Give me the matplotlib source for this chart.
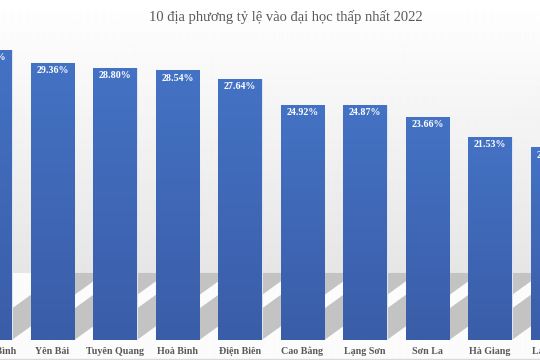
import numpy as np
import matplotlib.pyplot as plt
from matplotlib.patches import Polygon
from matplotlib.colors import LinearSegmentedColormap

# Dữ liệu
provinces = ['Quảng Bình', 'Yên Bái', 'Tuyên Quang', 'Hoà Bình', 'Điện Biên',
             'Cao Bằng', 'Lạng Sơn', 'Sơn La', 'Hà Giang', 'Lai Châu']
rates = [30.70, 29.36, 28.80, 28.54, 27.64, 24.92, 24.87, 23.66, 21.53, 20.40]
title = '10 địa phương tỷ lệ vào đại học thấp nhất 2022'

serif = ['Liberation Serif', 'DejaVu Serif']
grey_text = '#595959'

fig = plt.figure(figsize=(5.4, 3.6), dpi=100)

# nền: chuyển màu trắng -> xám nhạt, sàn trắng
bg = fig.add_axes([0, 0, 1, 1], zorder=0)
col = np.ones((360, 1))
col[:273, 0] = np.linspace(1.0, 0.90, 273)
col[273:, 0] = 0.985
bg.imshow(np.repeat(col, 2, axis=1), cmap='gray', vmin=0, vmax=1,
          aspect='auto', extent=[0, 1, 0, 1], interpolation='bilinear')
bg.set_axis_off()
bg.plot([0, 1], [0.004, 0.004], color='#d9d9d9', lw=1)
bg.set_xlim(0, 1)
bg.set_ylim(0, 1)

ax = fig.add_axes([0, 20 / 360, 1, 340 / 360], zorder=1)
ax.patch.set_alpha(0)
x = np.arange(len(provinces))
w = 0.7

# bóng đổ phía sau cột
sh_h, sh_dx = 7.1, 1.49
for xi in x:
    ax.add_patch(Polygon([(xi - w / 2, 0), (xi + w / 2, 0),
                          (xi + w / 2 + sh_dx, sh_h), (xi - w / 2 + sh_dx, sh_h)],
                         closed=True, facecolor='#c3c3c3', edgecolor='none',
                         zorder=1))

bars = ax.bar(x, rates, width=w, color='#4170c0', edgecolor='#dfe6f3',
              linewidth=0.8, zorder=2)

cmap = LinearSegmentedColormap.from_list('blue', ['#3a5da8', '#4472c4'])
grad = np.linspace(0, 1, 100).reshape(-1, 1)
for b in bars:
    im = ax.imshow(grad, cmap=cmap, origin='lower', aspect='auto',
                   extent=[b.get_x(), b.get_x() + b.get_width(), 0, b.get_height()],
                   zorder=2.5)
    im.set_clip_path(b)

for xi, v in zip(x, rates):
    ax.text(xi, v - 0.35, f'{v:.2f}%', ha='center', va='top', color='white',
            fontsize=7.2, fontweight='bold', family=serif, zorder=3)

# nhãn tỉnh (vẽ bằng annotate để cả nhãn bị cắt ở mép vẫn hiện)
for xi, name in zip(x, provinces):
    ax.annotate(name, xy=(xi, 0), xycoords=('data', 'axes fraction'),
                xytext=(0, -5), textcoords='offset points', ha='center',
                va='top', fontsize=7.2, fontweight='bold', family=serif,
                color=grey_text, annotation_clip=False)

ax.set_xticks([])
ax.set_yticks([])
for s in ax.spines.values():
    s.set_visible(False)
ax.set_xlim(0.16, 8.8)
ax.set_ylim(0, 36.0)

fig.text(286 / 540, 1 - 17 / 360, title, ha='center', va='center',
         fontsize=10.5, color=grey_text, family=serif)

fig.savefig('out.png', dpi=100)
